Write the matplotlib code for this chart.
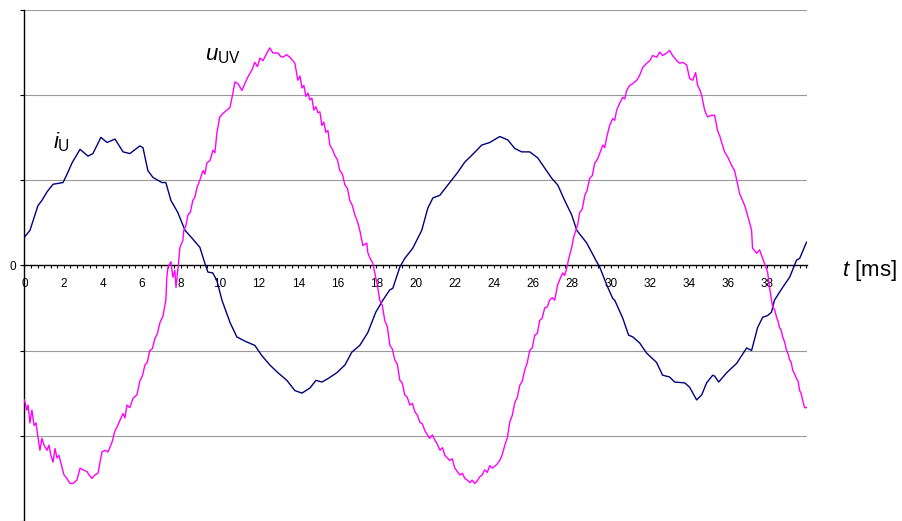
import matplotlib.pyplot as plt
from matplotlib.ticker import MultipleLocator
import numpy as np

plt.rcParams['font.family'] = ['Liberation Sans', 'DejaVu Sans']
plt.rcParams['mathtext.fontset'] = 'custom'
plt.rcParams['mathtext.rm'] = 'Liberation Sans'
plt.rcParams['mathtext.it'] = 'Liberation Sans:italic'

# phase current i_U (t in ms, value in grid units)
t_i = [0.00, 0.28, 0.69, 0.89, 1.15, 1.46, 1.71, 1.97, 2.22, 2.43, 2.84, 3.25, 3.50, 3.91,
       4.22, 4.63, 5.04, 5.39, 5.90, 6.06, 6.31, 6.57, 7.03, 7.23, 7.49, 7.84, 8.21, 8.56,
       8.97, 9.23, 9.38, 9.63, 9.84, 10.10, 10.51, 10.86, 11.27, 11.78, 12.14, 12.55, 12.96,
       13.42, 13.83, 14.19, 14.60, 14.91, 15.21, 15.52, 15.98, 16.39, 16.74, 17.15, 17.56,
       17.97, 18.33, 18.68, 18.84, 19.20, 19.45, 19.86, 20.32, 20.63, 20.89, 21.24, 21.65,
       22.16, 22.52, 22.88, 23.39, 23.80, 24.31, 24.72, 25.08, 25.43, 25.84, 26.25, 26.61,
       26.97, 27.28, 27.63, 27.99, 28.25, 28.76, 29.27, 29.42, 29.78, 30.09, 30.19, 30.60,
       30.90, 31.11, 31.46, 31.82, 32.33, 32.64, 32.99, 33.26, 33.77, 34.02, 34.38, 34.64,
       34.89, 35.20, 35.30, 35.51, 35.92, 36.43, 36.94, 37.19, 37.50, 37.76, 38.01, 38.21,
       38.36, 38.78, 39.14, 39.49, 39.65, 40.00]
i_u = [0.33, 0.41, 0.70, 0.76, 0.86, 0.95, 0.96, 0.97, 1.09, 1.20, 1.36, 1.28, 1.31, 1.50,
       1.44, 1.48, 1.33, 1.31, 1.40, 1.38, 1.11, 1.03, 0.97, 0.97, 0.76, 0.62, 0.41, 0.32,
       0.21, 0.02, -0.08, -0.09, -0.18, -0.41, -0.67, -0.84, -0.89, -0.94, -1.06, -1.17, -1.26,
       -1.35, -1.47, -1.50, -1.44, -1.35, -1.37, -1.33, -1.26, -1.17, -1.02, -0.94, -0.79,
       -0.55, -0.41, -0.29, -0.27, -0.02, 0.08, 0.20, 0.41, 0.67, 0.79, 0.82, 0.94,
       1.09, 1.21, 1.29, 1.41, 1.44, 1.51, 1.47, 1.37, 1.33, 1.33, 1.26, 1.14,
       1.02, 0.94, 0.76, 0.59, 0.41, 0.26, 0.04, -0.02, -0.23, -0.39, -0.41, -0.62,
       -0.82, -0.84, -0.91, -1.03, -1.14, -1.29, -1.31, -1.37, -1.38, -1.43, -1.58, -1.52,
       -1.38, -1.29, -1.30, -1.37, -1.26, -1.15, -0.97, -1.00, -0.73, -0.61, -0.59, -0.55,
       -0.41, -0.26, -0.14, 0.06, 0.08, 0.27]

# line voltage u_UV
t_u = [0.00, 0.11, 0.18, 0.28, 0.38, 0.49, 0.59, 0.69, 0.79, 0.89, 1.00, 1.15, 1.25, 1.35,
       1.46, 1.56, 1.66, 1.76, 1.92, 2.02, 2.17, 2.33, 2.48, 2.68, 2.84, 2.99, 3.20, 3.30,
       3.45, 3.60, 3.76, 3.96, 4.12, 4.27, 4.47, 4.63, 4.73, 4.88, 5.04, 5.14, 5.24, 5.39,
       5.55, 5.75, 5.91, 6.03, 6.16, 6.28, 6.41, 6.54, 6.67, 6.80, 6.93, 7.08, 7.23, 7.28,
       7.34, 7.49, 7.59, 7.69, 7.75, 7.85, 7.95, 8.10, 8.15, 8.25, 8.36, 8.48, 8.61, 8.72,
       8.82, 8.97, 9.13, 9.23, 9.33, 9.49, 9.64, 9.74, 9.84, 9.99, 10.15, 10.35, 10.51,
       10.66, 10.76, 10.92, 11.12, 11.27, 11.43, 11.63, 11.78, 11.92, 12.04, 12.20, 12.40,
       12.55, 12.70, 12.96, 13.10, 13.22, 13.40, 13.58, 13.83, 13.98, 14.09, 14.19, 14.29,
       14.39, 14.50, 14.60, 14.70, 14.80, 14.90, 15.01, 15.11, 15.21, 15.31, 15.41, 15.52,
       15.62, 15.75, 15.87, 16.00, 16.13, 16.26, 16.39, 16.52, 16.64, 16.77, 16.90, 17.02,
       17.15, 17.31, 17.51, 17.56, 17.66, 17.82, 17.92, 18.07, 18.17, 18.30, 18.43, 18.56,
       18.69, 18.81, 18.94, 19.07, 19.20, 19.32, 19.45, 19.58, 19.71, 19.84, 19.97, 20.10,
       20.22, 20.35, 20.48, 20.61, 20.73, 20.86, 20.99, 21.12, 21.25, 21.38, 21.50, 21.63,
       21.76, 21.88, 22.01, 22.14, 22.27, 22.40, 22.52, 22.65, 22.78, 22.90, 23.03, 23.16,
       23.29, 23.41, 23.54, 23.67, 23.80, 23.92, 24.05, 24.18, 24.31, 24.44, 24.57, 24.70,
       24.82, 24.95, 25.08, 25.21, 25.33, 25.46, 25.59, 25.72, 25.84, 25.97, 26.10, 26.23,
       26.35, 26.48, 26.61, 26.74, 26.86, 27.00, 27.12, 27.27, 27.43, 27.53, 27.63, 27.73,
       27.84, 27.99, 28.09, 28.20, 28.30, 28.40, 28.53, 28.66, 28.78, 28.91, 29.04, 29.17,
       29.30, 29.42, 29.58, 29.68, 29.78, 29.93, 30.09, 30.19, 30.29, 30.44, 30.60, 30.70,
       30.80, 30.96, 31.11, 31.32, 31.47, 31.62, 31.83, 31.98, 32.13, 32.34, 32.49, 32.64,
       32.85, 33.00, 33.15, 33.36, 33.51, 33.67, 33.87, 34.02, 34.18, 34.33, 34.43, 34.54,
       34.64, 34.79, 34.94, 35.15, 35.30, 35.45, 35.56, 35.66, 35.81, 35.97, 36.17, 36.32,
       36.43, 36.58, 36.73, 36.84, 36.94, 37.09, 37.19, 37.24, 37.45, 37.60, 37.76, 37.86,
       38.01, 38.11, 38.21, 38.27, 38.37, 38.47, 38.55, 38.62, 38.70, 38.78, 38.88, 38.98,
       39.06, 39.14, 39.22, 39.29, 39.40, 39.49, 39.57, 39.65, 39.72, 39.80, 39.90, 40.00]
u_uv = [-1.58, -1.70, -1.64, -1.85, -1.70, -1.88, -1.85, -2.02, -2.17, -2.03, -2.11, -2.17,
        -2.11, -2.23, -2.31, -2.15, -2.26, -2.23, -2.37, -2.46, -2.50, -2.56, -2.56, -2.52,
        -2.38, -2.40, -2.42, -2.46, -2.50, -2.46, -2.44, -2.19, -2.17, -2.19, -2.08, -1.94,
        -1.90, -1.82, -1.74, -1.79, -1.64, -1.67, -1.56, -1.52, -1.35, -1.30, -1.17, -1.14,
        -1.00, -0.98, -0.86, -0.80, -0.67, -0.60, -0.41, -0.14, -0.02, 0.04, -0.14, -0.06,
        -0.26, -0.04, 0.21, 0.29, 0.41, 0.46, 0.59, 0.62, 0.76, 0.80, 0.91, 1.00, 1.11,
        1.07, 1.20, 1.23, 1.35, 1.32, 1.55, 1.74, 1.78, 1.82, 1.85, 2.02, 2.15, 2.13, 2.05,
        2.13, 2.21, 2.29, 2.38, 2.33, 2.43, 2.40, 2.49, 2.55, 2.49, 2.49, 2.45, 2.44, 2.47,
        2.44, 2.37, 2.17, 2.22, 2.08, 2.11, 1.98, 2.02, 1.94, 1.96, 1.82, 1.86, 1.79, 1.80,
        1.64, 1.68, 1.56, 1.58, 1.41, 1.36, 1.29, 1.24, 1.11, 1.07, 0.94, 0.90, 0.76, 0.70,
        0.59, 0.52, 0.41, 0.23, 0.26, 0.15, 0.09, 0.02, -0.09, -0.26, -0.41, -0.47, -0.65,
        -0.72, -0.94, -0.98, -1.11, -1.16, -1.35, -1.38, -1.52, -1.55, -1.64, -1.62, -1.72,
        -1.76, -1.84, -1.86, -1.94, -1.99, -2.03, -1.99, -2.05, -2.10, -2.17, -2.14, -2.23,
        -2.26, -2.29, -2.27, -2.38, -2.42, -2.46, -2.44, -2.50, -2.52, -2.55, -2.52, -2.56,
        -2.53, -2.48, -2.46, -2.40, -2.43, -2.35, -2.38, -2.36, -2.33, -2.29, -2.22, -2.11,
        -2.02, -1.84, -1.76, -1.61, -1.55, -1.41, -1.36, -1.23, -1.14, -1.00, -0.97, -0.82,
        -0.80, -0.65, -0.62, -0.50, -0.49, -0.41, -0.38, -0.41, -0.23, -0.14, -0.09, -0.12,
        -0.04, 0.08, 0.21, 0.33, 0.41, 0.48, 0.62, 0.66, 0.82, 0.88, 1.02, 1.05, 1.20,
        1.24, 1.31, 1.41, 1.38, 1.50, 1.64, 1.72, 1.70, 1.82, 1.90, 1.97, 1.95,
        2.05, 2.11, 2.13, 2.17, 2.23, 2.32, 2.37, 2.40, 2.46, 2.44, 2.50, 2.46,
        2.49, 2.52, 2.46, 2.40, 2.37, 2.38, 2.35, 2.19, 2.17, 2.26, 2.11, 2.06,
        1.99, 1.82, 1.74, 1.76, 1.76, 1.58, 1.52, 1.44, 1.33, 1.27, 1.17, 1.11,
        1.00, 0.84, 0.76, 0.70, 0.62, 0.50, 0.41, 0.20, 0.14, 0.18, 0.08, 0.02,
        -0.08, -0.26, -0.41, -0.49, -0.52, -0.61, -0.66, -0.73, -0.76, -0.84, -0.90, -1.00,
        -1.04, -1.11, -1.14, -1.23, -1.28, -1.33, -1.36, -1.47, -1.50, -1.58, -1.67, -1.67]

y_grid = [-2, -1, 1, 2, 3]

fig = plt.figure(figsize=(9.03, 5.21), dpi=100)
ax = fig.add_axes([24.5 / 903, 0.0, 782 / 903, 511.5 / 521])

for g in y_grid:
    ax.axhline(g, color='#9a9a9a', lw=0.8, zorder=1)

ax.plot(t_i, i_u, color='#000080', lw=1.0, zorder=3)
ax.plot(t_u, u_uv, color='#ff00ff', lw=1.0, zorder=4)

ax.set_xlim(0, 40)
ax.set_ylim(-3, 3)

ax.spines['top'].set_visible(False)
ax.spines['right'].set_visible(False)
ax.spines['bottom'].set_position(('data', 0))
ax.spines['left'].set_linewidth(1.0)
ax.spines['bottom'].set_linewidth(1.0)

ax.set_xticks(np.arange(0, 40, 2))
ax.set_xticklabels([str(v) for v in range(0, 40, 2)], fontsize=8.5)
ax.xaxis.set_minor_locator(MultipleLocator(1 / 3))
ax.tick_params(axis='x', which='both', direction='out', length=2.5, width=0.8, pad=6.5)

ax.set_yticks([-3, -2, -1, 0, 1, 2, 3])
ax.set_yticklabels(['', '', '', '0', '', '', ''], fontsize=8.5)
ax.tick_params(axis='y', direction='out', length=3, width=0.8, pad=3)

ax.text(1.46, 1.37, r'$i_\mathrm{U}$', fontsize=16, ha='left', va='baseline')
ax.text(9.23, 2.40, r'$u_\mathrm{UV}$', fontsize=16, ha='left', va='baseline')
ax.text(41.8, -0.13, r'$t$ [ms]', fontsize=16, ha='left', va='baseline', clip_on=False)

fig.savefig('out.png', dpi=100)
